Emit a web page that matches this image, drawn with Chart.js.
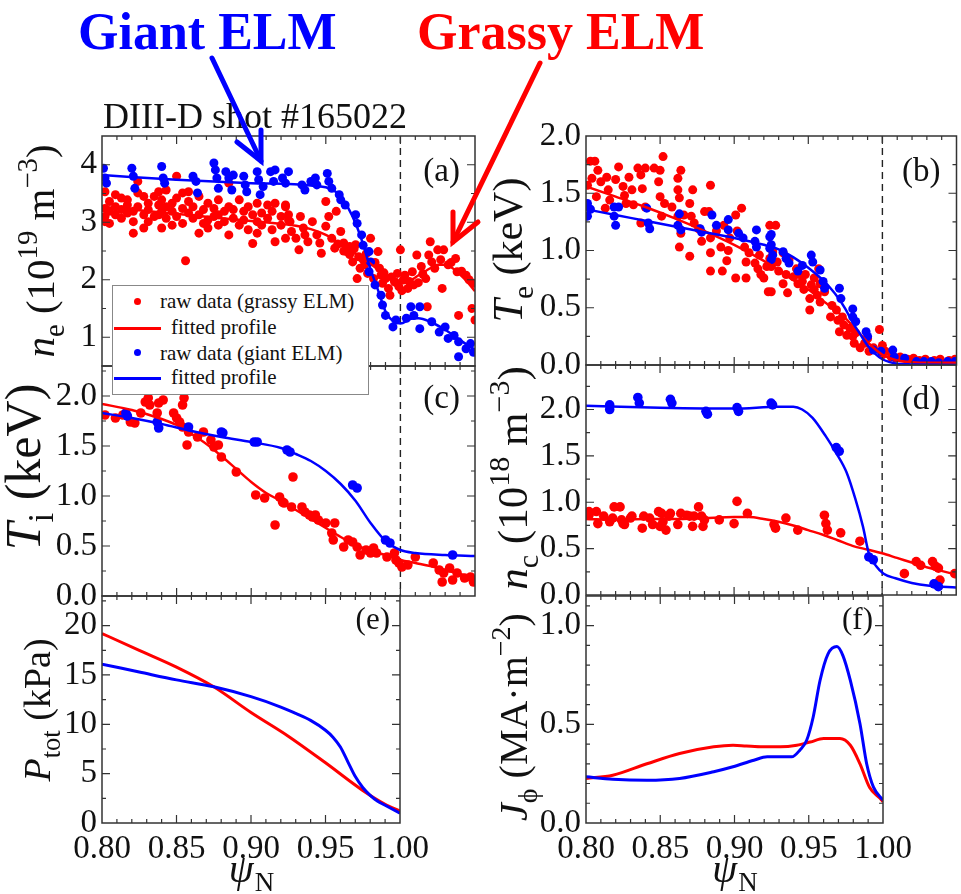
<!DOCTYPE html>
<html>
<head>
<meta charset="utf-8">
<script src="https://cdn.jsdelivr.net/npm/chart.js@4.4.0/dist/chart.umd.min.js"></script>
<style>
  html, body { margin: 0; padding: 0; background: #fff; overflow: hidden; }
  #page { position: relative; width: 961px; height: 894px; overflow: hidden;
          font-family: 'Liberation Serif', 'Times New Roman', serif; color: #111; }
  #page canvas { position: absolute; left: 0; top: 0; }
  .note { position: absolute; white-space: nowrap; line-height: 1; }
  #legend { position: absolute; left: 112px; top: 285px; width: 255px; height: 108px;
            border: 1.5px solid #888; background: #fff; z-index: 5; font-size: 21px; }
  #legend .dot { position: absolute; width: 7px; height: 7px; border-radius: 50%; }
  #legend .ln { position: absolute; height: 3px; width: 47px; left: 1px; }
  #legend span { position: absolute; white-space: nowrap; line-height: 1; }
  #arrows { position: absolute; left: 0; top: 0; z-index: 6; }
</style>
</head>
<body>
<div id="page">
  <div class="note" style="left:78px;top:6px;font-size:52px;font-weight:bold;color:#0000ff;">Giant ELM</div>
  <div class="note" style="left:417px;top:6px;font-size:52px;font-weight:bold;color:#ff0000;">Grassy ELM</div>
  <div class="note" style="left:103px;top:98px;font-size:36px;">DIII-D shot #165022</div>
  <div id="legend">
    <div class="dot" style="left:21px;top:12px;background:#ff0000;"></div>
    <span style="left:47px;top:5px;">raw data (grassy ELM)</span>
    <div class="ln" style="top:41px;background:#ff0000;"></div>
    <span style="left:58px;top:31px;">fitted profile</span>
    <div class="dot" style="left:21px;top:63px;background:#0000ff;"></div>
    <span style="left:47px;top:57px;">raw data (giant ELM)</span>
    <div class="ln" style="top:91px;background:#0000ff;"></div>
    <span style="left:58px;top:81px;">fitted profile</span>
  </div>
  <svg id="arrows" width="961" height="894">
    <g stroke="#0000ff" stroke-width="5" fill="none" stroke-linecap="round">
      <line x1="212" y1="58" x2="261" y2="161"/>
      <polyline points="237,142 261,161 261,130"/>
    </g>
    <g stroke="#ff0000" stroke-width="5" fill="none" stroke-linecap="round">
      <line x1="540" y1="63" x2="453" y2="242"/>
      <polyline points="453,212 453,242 478,222"/>
    </g>
  </svg>
</div>
<script>
// x axis (psi_N) ticks
const psiTicks = [0.80, 0.85, 0.90, 0.95, 1.00, 1.05];

// (a) electron density n_e, 10^19 m^-3
const neTicks = [1, 2, 3, 4];
const neGrassyRaw = [
  [0.802,3.53],[0.802,3.24],[0.802,3.10],[0.802,3.01],[0.805,3.19],[0.805,2.98],[0.805,3.36],
  [0.809,3.48],[0.809,3.27],[0.809,3.13],[0.813,3.42],[0.813,3.22],[0.813,3.07],[0.817,3.30],
  [0.817,3.16],[0.817,3.39],[0.821,3.01],[0.821,2.81],[0.821,3.19],[0.824,3.71],[0.824,3.51],
  [0.824,3.27],[0.828,3.45],[0.828,3.13],[0.828,2.90],[0.831,3.33],[0.831,3.22],[0.831,3.01],
  [0.835,3.10],[0.835,3.45],[0.838,3.53],[0.838,3.30],[0.838,3.13],[0.840,3.39],[0.840,3.19],
  [0.840,2.90],[0.843,3.56],[0.843,3.27],[0.843,3.07],[0.847,3.19],[0.847,2.95],[0.847,3.33],
  [0.850,3.80],[0.850,3.42],[0.850,3.10],[0.854,3.51],[0.854,3.24],[0.854,2.98],[0.856,2.33],
  [0.858,3.36],[0.858,3.16],[0.858,3.53],[0.861,3.27],[0.861,3.07],[0.865,3.45],[0.865,3.13],
  [0.865,2.81],[0.868,3.22],[0.868,2.98],[0.871,3.33],[0.871,3.04],[0.871,2.90],[0.875,3.24],
  [0.875,3.10],[0.878,3.39],[0.878,2.95],[0.878,3.13],[0.882,3.19],[0.882,3.01],[0.885,3.68],
  [0.885,3.27],[0.885,2.78],[0.888,3.07],[0.888,3.22],[0.892,3.39],[0.892,2.95],[0.895,3.19],
  [0.895,3.04],[0.898,3.27],[0.898,2.87],[0.901,2.63],[0.901,3.13],[0.904,3.33],[0.904,3.01],
  [0.904,2.81],[0.907,3.16],[0.907,2.95],[0.911,3.30],[0.911,3.07],[0.914,3.19],[0.914,2.87],
  [0.916,2.66],[0.916,3.33],[0.920,3.10],[0.920,2.95],[0.923,3.27],[0.923,2.72],[0.925,3.04],
  [0.923,3.30],[0.925,3.13],[0.926,3.01],[0.927,2.84],[0.930,2.72],[0.932,2.52],[0.933,3.10],
  [0.935,2.90],[0.936,2.78],[0.938,2.66],[0.941,3.01],[0.944,2.78],[0.946,2.64],[0.947,2.46],
  [0.950,3.36],[0.950,2.93],[0.952,3.10],[0.954,2.72],[0.956,2.55],[0.957,3.19],[0.958,2.62],
  [0.960,2.84],[0.962,2.64],[0.962,2.50],[0.964,2.49],[0.966,2.58],[0.966,2.44],[0.968,2.31],
  [0.969,2.54],[0.970,2.61],[0.971,2.02],[0.972,2.40],[0.973,2.20],[0.975,2.35],[0.976,2.26],
  [0.977,2.45],[0.978,2.11],[0.980,2.72],[0.982,2.02],[0.983,2.30],[0.985,2.49],[0.986,2.20],
  [0.987,2.08],[0.988,1.94],[0.989,2.12],[0.990,2.02],[0.992,1.85],[0.993,1.73],[0.994,2.05],
  [0.996,1.97],[0.997,1.95],[0.998,2.11],[0.999,1.88],[1.000,2.52],[1.001,1.81],[1.002,2.00],
  [1.003,2.08],[1.005,1.85],[1.006,1.97],[1.008,2.14],[1.009,1.91],[1.011,2.43],[1.012,1.95],
  [1.014,2.23],[1.015,2.10],[1.017,2.02],[1.018,1.53],[1.019,2.43],[1.020,2.66],[1.021,2.31],
  [1.023,2.20],[1.025,2.52],[1.027,2.35],[1.028,1.85],[1.029,2.52],[1.032,2.26],[1.034,2.30],
  [1.037,2.37],[1.038,2.14],[1.039,1.38],[1.041,2.15],[1.044,2.08],[1.046,2.00],[1.048,1.50],
  [1.049,1.94],[1.050,1.30]
];
const neGrassyFit = [
  [0.80,3.27],[0.82,3.22],[0.84,3.17],[0.86,3.12],[0.88,3.07],[0.90,3.02],[0.92,2.97],
  [0.93,2.94],[0.94,2.88],[0.95,2.78],[0.96,2.62],[0.97,2.45],[0.98,2.28],[0.99,2.07],
  [1.00,1.94],[1.005,1.96],[1.01,2.04],[1.02,2.20],[1.025,2.26],[1.03,2.26],[1.035,2.20],
  [1.04,2.09],[1.045,1.96],[1.05,1.80]
];
const neGiantRaw = [
  [0.801,3.94],[0.802,3.77],[0.803,3.68],[0.820,3.94],[0.821,3.80],[0.822,3.59],[0.840,3.97],
  [0.841,3.77],[0.842,3.68],[0.861,3.80],[0.863,3.71],[0.864,3.51],[0.875,4.03],[0.876,3.91],
  [0.877,3.77],[0.878,3.59],[0.883,3.88],[0.885,3.77],[0.887,3.56],[0.888,3.82],[0.895,3.80],
  [0.896,3.65],[0.897,3.53],[0.904,3.88],[0.905,3.74],[0.906,3.48],[0.908,3.62],[0.913,3.88],
  [0.915,3.71],[0.916,3.91],[0.921,3.77],[0.923,3.68],[0.925,3.88],[0.934,3.65],[0.936,3.56],
  [0.940,3.71],[0.943,3.77],[0.944,3.65],[0.951,3.85],[0.952,3.71],[0.954,3.59],[0.959,3.48],
  [0.960,3.39],[0.963,3.30],[0.970,3.13],[0.971,2.98],[0.974,2.78],[0.975,2.60],[0.979,2.49],
  [0.980,2.31],[0.979,2.14],[0.983,1.91],[0.987,1.73],[0.988,1.56],[0.990,1.38],[0.995,1.18],
  [0.997,1.30],[1.004,1.33],[1.007,1.53],[1.009,1.38],[1.013,1.53],[1.013,1.15],[1.021,1.27],
  [1.026,1.09],[1.030,1.18],[1.032,0.98],[1.036,1.03],[1.039,0.92],[1.039,0.66],[1.044,0.80],
  [1.047,0.89],[1.049,0.74]
];
const neGiantFit = [
  [0.80,3.82],[0.85,3.74],[0.90,3.68],[0.94,3.64],[0.955,3.56],[0.96,3.45],[0.965,3.25],
  [0.97,2.98],[0.975,2.62],[0.98,2.18],[0.985,1.82],[0.99,1.45],[0.995,1.28],[1.00,1.24],
  [1.007,1.32],[1.012,1.33],[1.02,1.27],[1.03,1.13],[1.04,0.95],[1.05,0.78]
];

// (b) electron temperature T_e, keV
const teTicks = [0.0, 0.5, 1.0, 1.5, 2.0];
const teGrassyRaw = [
  [0.803,1.78],[0.806,1.78],[0.804,1.63],[0.801,1.57],[0.808,1.70],[0.810,1.60],[0.807,1.47],
  [0.814,1.64],[0.815,1.53],[0.816,1.44],[0.813,1.37],[0.822,1.73],[0.820,1.62],[0.825,1.56],
  [0.826,1.48],[0.827,1.41],[0.829,1.64],[0.831,1.53],[0.832,1.40],[0.835,1.72],[0.837,1.66],
  [0.838,1.54],[0.840,1.38],[0.840,1.72],[0.837,1.24],[0.846,1.72],[0.850,1.70],[0.852,1.82],
  [0.849,1.60],[0.850,1.47],[0.851,1.30],[0.853,1.41],[0.858,1.38],[0.862,1.63],[0.864,1.70],
  [0.862,1.53],[0.863,1.46],[0.862,1.30],[0.864,1.15],[0.863,1.03],[0.866,1.31],[0.870,1.41],
  [0.872,1.53],[0.871,1.30],[0.873,1.24],[0.870,0.95],[0.876,1.19],[0.878,1.08],[0.880,1.34],
  [0.884,1.57],[0.883,1.34],[0.884,1.11],[0.884,0.98],[0.884,0.82],[0.888,1.17],[0.891,1.03],
  [0.892,0.82],[0.893,1.22],[0.895,0.91],[0.896,1.00],[0.897,1.11],[0.901,1.31],[0.902,1.17],
  [0.901,0.76],[0.905,1.37],[0.907,1.03],[0.908,0.76],[0.908,0.90],[0.910,0.98],[0.914,0.89],
  [0.916,0.84],[0.917,0.96],[0.918,0.79],[0.920,0.76],[0.923,0.64],[0.922,0.86],[0.924,0.93],
  [0.924,1.22],[0.928,1.22],[0.926,0.99],[0.925,0.86],[0.925,0.64],[0.929,0.90],[0.930,0.82],
  [0.933,0.98],[0.933,0.71],[0.935,0.79],[0.936,0.63],[0.937,0.92],[0.940,0.77],[0.942,0.84],
  [0.943,0.71],[0.944,0.79],[0.946,0.73],[0.947,0.66],[0.948,0.79],[0.951,0.48],[0.951,0.58],
  [0.952,0.70],[0.954,0.66],[0.954,0.76],[0.956,0.61],[0.957,0.84],[0.958,0.55],[0.958,0.71],
  [0.961,0.64],[0.965,0.42],[0.966,0.52],[0.969,0.48],[0.970,0.39],[0.971,0.29],[0.973,0.42],
  [0.974,0.35],[0.976,0.26],[0.978,0.32],[0.980,0.25],[0.981,0.19],[0.982,0.28],[0.985,0.15],
  [0.988,0.19],[0.990,0.23],[0.991,0.12],[0.994,0.15],[0.998,0.31],[1.000,0.17],[1.000,0.09],
  [1.002,0.12],[1.006,0.07],[1.009,0.06],[1.012,0.07],[1.017,0.05],[1.021,0.06],[1.025,0.04],
  [1.029,0.05],[1.035,0.04],[1.039,0.05],[1.045,0.04],[1.049,0.05]
];
const teGrassyFit = [
  [0.80,1.56],[0.82,1.47],[0.84,1.38],[0.86,1.28],[0.88,1.17],[0.90,1.05],[0.92,0.91],
  [0.93,0.83],[0.94,0.74],[0.95,0.66],[0.96,0.56],[0.97,0.46],[0.975,0.41],[0.98,0.34],
  [0.985,0.27],[0.99,0.20],[0.995,0.14],[1.00,0.09],[1.005,0.06],[1.01,0.04],[1.02,0.025],
  [1.03,0.02],[1.05,0.02]
];
const teGiantRaw = [
  [0.801,1.41],[0.801,1.30],[0.803,1.36],[0.819,1.38],[0.822,1.38],[0.820,1.22],[0.819,1.30],
  [0.841,1.37],[0.842,1.24],[0.843,1.19],[0.862,1.22],[0.863,1.32],[0.864,1.18],[0.877,1.19],
  [0.878,1.16],[0.885,1.31],[0.888,1.22],[0.896,1.27],[0.896,1.18],[0.903,1.15],[0.906,1.11],
  [0.914,1.08],[0.915,1.18],[0.915,1.03],[0.924,1.12],[0.924,1.02],[0.925,0.92],[0.925,1.14],
  [0.925,1.05],[0.926,0.96],[0.933,0.99],[0.935,0.93],[0.937,0.89],[0.943,0.82],[0.946,0.87],
  [0.952,0.96],[0.953,0.90],[0.958,0.83],[0.960,0.73],[0.961,0.67],[0.971,0.67],[0.972,0.58],
  [0.980,0.49],[0.980,0.42],[0.982,0.38],[0.989,0.29],[0.990,0.25],[0.994,0.13],[0.999,0.12],
  [1.007,0.13],[1.008,0.07],[1.015,0.06],[1.023,0.03],[1.028,0.03],[1.033,0.03],[1.038,0.02],
  [1.044,0.03],[1.049,0.03]
];
const teGiantFit = [
  [0.80,1.36],[0.82,1.31],[0.84,1.26],[0.86,1.21],[0.88,1.16],[0.90,1.11],[0.92,1.05],
  [0.93,1.01],[0.94,0.94],[0.95,0.85],[0.96,0.74],[0.965,0.67],[0.97,0.59],[0.975,0.49],
  [0.98,0.37],[0.985,0.27],[0.99,0.17],[0.995,0.10],[1.00,0.05],[1.005,0.025],[1.01,0.01],
  [1.02,0.005],[1.05,0.0]
];

// (c) ion temperature T_i, keV
const tiTicks = [0.0, 0.5, 1.0, 1.5, 2.0];
const tiGrassyRaw = [
  [0.802,1.81],[0.809,1.78],[0.814,1.81],[0.819,1.74],[0.822,1.73],[0.826,1.83],[0.829,1.94],
  [0.831,1.98],[0.832,1.91],[0.837,1.83],[0.838,1.93],[0.841,1.96],[0.848,1.83],[0.850,1.78],
  [0.852,1.74],[0.854,1.91],[0.855,1.98],[0.854,1.69],[0.857,1.51],[0.858,1.64],[0.864,1.59],
  [0.868,1.64],[0.873,1.56],[0.875,1.49],[0.878,1.51],[0.880,1.39],[0.890,1.24],[0.903,1.01],
  [0.909,0.98],[0.916,0.71],[0.919,0.99],[0.921,0.94],[0.922,0.93],[0.927,0.89],[0.928,1.19],
  [0.934,0.89],[0.936,0.84],[0.939,0.81],[0.941,0.79],[0.943,0.81],[0.945,0.76],[0.950,0.73],
  [0.954,0.63],[0.956,0.73],[0.955,0.56],[0.962,0.49],[0.965,0.56],[0.968,0.54],[0.971,0.49],
  [0.973,0.41],[0.977,0.46],[0.980,0.43],[0.982,0.48],[0.984,0.43],[0.991,0.39],[0.996,0.43],
  [0.997,0.36],[0.999,0.33],[1.001,0.29],[1.005,0.31],[1.010,0.39],[1.022,0.33],[1.026,0.26],
  [1.029,0.23],[1.028,0.14],[1.033,0.28],[1.035,0.16],[1.038,0.23],[1.043,0.18],[1.047,0.19],
  [1.049,0.14]
];
const tiGrassyFit = [
  [0.80,1.92],[0.82,1.86],[0.84,1.77],[0.85,1.71],[0.86,1.62],[0.87,1.52],[0.88,1.40],
  [0.89,1.27],[0.90,1.14],[0.91,1.03],[0.92,0.95],[0.93,0.86],[0.94,0.77],[0.95,0.68],
  [0.96,0.59],[0.97,0.51],[0.98,0.45],[0.99,0.41],[1.00,0.36],[1.01,0.33],[1.02,0.30],
  [1.03,0.26],[1.04,0.22],[1.05,0.18]
];
const tiGiantRaw = [
  [0.816,1.83],[0.817,1.80],[0.837,1.74],[0.838,1.68],[0.858,1.69],[0.880,1.64],[0.881,1.63],
  [0.902,1.54],[0.904,1.54],[0.924,1.46],[0.926,1.44],[0.968,1.11],[0.971,1.08],[0.990,0.56],
  [0.993,0.53],[1.035,0.41]
];
const tiGiantFit = [
  [0.80,1.83],[0.82,1.78],[0.84,1.72],[0.86,1.65],[0.88,1.59],[0.90,1.54],[0.92,1.48],
  [0.93,1.42],[0.94,1.35],[0.95,1.25],[0.96,1.12],[0.97,0.95],[0.98,0.73],[0.99,0.55],
  [1.00,0.46],[1.01,0.43],[1.03,0.41],[1.05,0.40]
];

// (d) carbon density n_c, 10^18 m^-3
const ncTicks = [0.0, 0.5, 1.0, 1.5, 2.0];
const ncGrassyRaw = [
  [0.802,0.90],[0.802,0.86],[0.807,0.90],[0.808,0.77],[0.812,0.85],[0.816,0.79],[0.818,0.83],
  [0.819,0.95],[0.823,0.95],[0.824,0.81],[0.825,0.77],[0.826,0.76],[0.830,0.83],[0.831,0.85],
  [0.838,0.72],[0.839,0.85],[0.843,0.83],[0.845,0.76],[0.849,0.90],[0.850,0.74],[0.851,0.88],
  [0.852,0.79],[0.854,0.70],[0.856,0.85],[0.857,0.88],[0.862,0.76],[0.864,0.88],[0.868,0.86],
  [0.870,0.85],[0.872,0.74],[0.873,0.85],[0.876,0.95],[0.878,0.85],[0.879,0.74],[0.880,0.81],
  [0.890,0.81],[0.900,0.77],[0.902,1.01],[0.909,0.88],[0.927,0.76],[0.928,0.72],[0.935,0.83],
  [0.943,0.70],[0.961,0.86],[0.962,0.77],[0.963,0.70],[0.972,0.67],[0.985,0.58],[1.015,0.23],
  [1.023,0.36],[1.026,0.32],[1.034,0.36],[1.036,0.31],[1.038,0.29],[1.039,0.16],[1.049,0.23]
];
const ncGrassyFit = [
  [0.80,0.82],[0.82,0.81],[0.84,0.82],[0.86,0.82],[0.88,0.83],[0.90,0.84],[0.91,0.84],
  [0.92,0.82],[0.93,0.79],[0.94,0.75],[0.95,0.70],[0.96,0.65],[0.97,0.59],[0.98,0.53],
  [0.99,0.49],[1.00,0.45],[1.01,0.40],[1.02,0.35],[1.03,0.30],[1.04,0.26],[1.05,0.22]
];
const ncGiantRaw = [
  [0.816,2.05],[0.816,2.00],[0.835,2.13],[0.836,2.07],[0.857,2.11],[0.858,2.07],[0.881,1.98],
  [0.882,1.95],[0.902,2.02],[0.903,1.98],[0.925,2.07],[0.926,2.05],[0.969,1.59],[0.971,1.55],
  [0.991,0.41],[0.994,0.38],[1.035,0.12],[1.038,0.09]
];
const ncGiantFit = [
  [0.80,2.04],[0.85,2.02],[0.90,2.01],[0.93,2.03],[0.94,2.03],[0.946,2.00],[0.953,1.91],
  [0.962,1.71],[0.969,1.53],[0.976,1.32],[0.982,1.03],[0.987,0.74],[0.991,0.45],[0.996,0.31],
  [1.001,0.23],[1.009,0.18],[1.02,0.13],[1.032,0.10],[1.05,0.08]
];

// (e) total pressure P_tot, kPa
const pTicks = [0, 5, 10, 15, 20];
const pGrassy = [
  [0.80,19.2],[0.825,17.5],[0.85,15.8],[0.875,13.8],[0.90,11.2],[0.925,8.8],[0.95,6.1],
  [0.975,3.3],[0.99,1.9],[1.00,1.2]
];
const pGiant = [
  [0.80,16.1],[0.825,15.3],[0.85,14.5],[0.875,13.8],[0.90,12.8],[0.92,11.75],[0.93,11.1],
  [0.94,10.4],[0.95,9.4],[0.955,8.7],[0.96,7.7],[0.965,6.2],[0.97,4.7],[0.975,3.6],
  [0.98,2.8],[0.985,2.2],[0.99,1.8],[1.00,1.0]
];

// (f) toroidal current density J_phi, MA m^-2
const jTicks = [0.0, 0.5, 1.0];
const jGrassy = [
  [0.80,0.226],[0.818,0.242],[0.841,0.300],[0.863,0.352],[0.886,0.386],[0.899,0.394],
  [0.908,0.390],[0.919,0.386],[0.931,0.386],[0.942,0.394],[0.951,0.410],[0.96,0.428],
  [0.971,0.428],[0.978,0.394],[0.9845,0.300],[0.991,0.180],[0.998,0.125],[1.00,0.108]
];
const jGiant = [
  [0.80,0.234],[0.818,0.222],[0.841,0.217],[0.863,0.226],[0.886,0.260],[0.899,0.285],
  [0.913,0.318],[0.922,0.335],[0.931,0.335],[0.9385,0.335],[0.944,0.369],[0.9486,0.419],
  [0.953,0.537],[0.9576,0.722],[0.963,0.857],[0.969,0.894],[0.973,0.848],[0.978,0.722],
  [0.9845,0.503],[0.989,0.300],[0.9935,0.183],[1.00,0.116]
];

const RED = '#ff0000', BLUE = '#0000ff';
const family = "'Liberation Serif', 'Times New Roman', serif";
Chart.defaults.font.family = family;
Chart.defaults.color = '#111';
const page = document.getElementById('page');

const pts = arr => arr.map(([x, y]) => ({ x, y }));
function dots(arr, color, order, r) {
  return { data: pts(arr), backgroundColor: color, borderColor: color, borderWidth: 0,
           pointRadius: r || 4.5, order };
}
function curve(arr, color, order, w) {
  return { data: pts(arr), showLine: true, borderColor: color, backgroundColor: color,
           borderWidth: w || 2.5, pointRadius: 0, cubicInterpolationMode: 'monotone', order };
}

// rotated y-axis title with sub/superscripts
function drawTitle(ctx, parts, size, bx, cy) {
  ctx.save();
  ctx.translate(bx, cy);
  ctx.rotate(-Math.PI / 2);
  const segs = parts.map(([t, k]) => {
    const small = k === 'sub' || k === 'sup';
    const font = (k === 'i' ? 'italic ' : '') + (small ? size * 0.7 : size) + 'px ' + family;
    ctx.font = font;
    const dy = k === 'sub' ? size * 0.25 : k === 'sup' ? -size * 0.42 : 0;
    return { t, font, dy, w: ctx.measureText(t).width };
  });
  const total = segs.reduce((s, g) => s + g.w, 0);
  let x = -total / 2;
  ctx.fillStyle = '#111';
  ctx.textBaseline = 'alphabetic';
  segs.forEach(g => { ctx.font = g.font; ctx.fillText(g.t, x, g.dy); x += g.w; });
  ctx.restore();
}

function makePanel(p) {
  const cv = document.createElement('canvas');
  cv.width = 961; cv.height = 894;
  page.insertBefore(cv, page.firstChild);
  const [L, T, R, B] = p.box;

  const framePlugin = {
    id: 'frame_' + p.id,
    beforeDatasetsDraw(chart) {
      if (!p.dashed) return;
      const ctx = chart.ctx, a = chart.chartArea;
      const x = chart.scales.x.getPixelForValue(1.0);
      ctx.save();
      ctx.strokeStyle = '#222'; ctx.lineWidth = 1.4; ctx.setLineDash([7, 5]);
      ctx.beginPath(); ctx.moveTo(x, a.top); ctx.lineTo(x, a.bottom); ctx.stroke();
      ctx.restore();
    },
    afterDraw(chart) {
      const ctx = chart.ctx, a = chart.chartArea;
      const xs = chart.scales.x, ys = chart.scales.y;
      ctx.save();
      ctx.strokeStyle = '#333'; ctx.lineWidth = 1.5;
      ctx.strokeRect(a.left, a.top, a.right - a.left, a.bottom - a.top);
      // inward ticks, all four sides
      ctx.lineWidth = 1.2;
      ctx.beginPath();
      const nx = Math.round(p.xMax * 100);
      for (let i = 81; i < nx; i++) {
        const x = xs.getPixelForValue(i / 100), len = i % 5 === 0 ? 8 : 4;
        ctx.moveTo(x, a.bottom); ctx.lineTo(x, a.bottom - len);
        ctx.moveTo(x, a.top); ctx.lineTo(x, a.top + len);
      }
      const ny = Math.floor((p.yMax - p.yMin) / p.yMinor + 1e-6);
      for (let k = 1; k <= ny; k++) {
        const v = p.yMin + k * p.yMinor;
        if (v >= p.yMax - 1e-6) continue;
        const y = ys.getPixelForValue(v);
        const len = p.yTicks.some(t => Math.abs(t - v) < 1e-6) ? 8 : 4;
        ctx.moveTo(a.left, y); ctx.lineTo(a.left + len, y);
        ctx.moveTo(a.right, y); ctx.lineTo(a.right - len, y);
      }
      ctx.stroke();
      // panel letter
      ctx.fillStyle = '#111';
      ctx.font = p.labelSize + 'px ' + family;
      ctx.textAlign = 'right'; ctx.textBaseline = 'alphabetic';
      ctx.fillText(p.label, a.right - p.labelDx, a.top + p.labelDy);
      ctx.textAlign = 'left';
      drawTitle(ctx, p.title, p.tSize, p.tx, p.ty);
      if (p.showX) {
        const cx = xs.getPixelForValue(0.9);
        ctx.font = 'italic 40px ' + family;
        const w1 = ctx.measureText('ψ').width;
        ctx.font = '27px ' + family;
        const w2 = ctx.measureText('N').width;
        let x = cx - (w1 + w2) / 2;
        ctx.font = 'italic 40px ' + family;
        ctx.fillText('ψ', x, 882);
        ctx.font = '27px ' + family;
        ctx.fillText('N', x + w1 + 1, 891);
      }
      ctx.restore();
    }
  };

  new Chart(cv, {
    type: 'scatter',
    data: { datasets: p.sets },
    options: {
      responsive: false, animation: false, devicePixelRatio: 1,
      layout: { padding: { left: 0, top: T, right: 961 - R, bottom: p.showX ? 0 : 894 - B } },
      plugins: { legend: { display: false }, tooltip: { enabled: false } },
      scales: {
        x: {
          type: 'linear', position: 'bottom', min: 0.8, max: p.xMax,
          grid: { display: false, drawTicks: false }, border: { display: false },
          ticks: { display: p.showX, autoSkip: false, maxRotation: 0, padding: 7, color: '#111',
                   font: { family: family, size: 33 }, callback: v => v.toFixed(2) },
          afterBuildTicks: s => { s.ticks = psiTicks.filter(v => v <= p.xMax + 1e-9).map(v => ({ value: v })); },
          afterFit: s => { s.height = p.showX ? 894 - B : 0; }
        },
        y: {
          type: 'linear', position: 'left', min: p.yMin, max: p.yMax,
          grid: { display: false, drawTicks: false }, border: { display: false },
          ticks: { autoSkip: false, padding: 5, color: '#111', font: { family: family, size: 33 },
                   callback: v => v.toFixed(p.dec) },
          afterBuildTicks: s => { s.ticks = p.yTicks.map(v => ({ value: v })); },
          afterFit: s => { s.width = L; }
        }
      }
    },
    plugins: [framePlugin]
  });
}

const panels = [
  { id: 'a', box: [102, 136, 475, 366], xMax: 1.05, yMin: 0.5, yMax: 4.5, yTicks: neTicks, yMinor: 0.5, dec: 0,
    dashed: true, showX: false, label: '(a)', labelSize: 33, labelDx: 15, labelDy: 45,
    title: [['n', 'i'], ['e', 'sub'], [' (10', 'n'], ['19', 'sup'], [' m', 'n'], ['−3', 'sup'], [')', 'n']],
    tSize: 41, tx: 54, ty: 251,
    sets: [curve(neGiantFit, BLUE, 0), curve(neGrassyFit, RED, 1), dots(neGiantRaw, BLUE, 2), dots(neGrassyRaw, RED, 3)] },
  { id: 'b', box: [586, 136, 959, 365], xMax: 1.05, yMin: 0, yMax: 2.0, yTicks: teTicks, yMinor: 0.25, dec: 1,
    dashed: true, showX: false, label: '(b)', labelSize: 33, labelDx: 16, labelDy: 45,
    title: [['T', 'i'], ['e', 'sub'], [' (keV)', 'n']],
    tSize: 42, tx: 522, ty: 250,
    sets: [curve(teGiantFit, BLUE, 0), curve(teGrassyFit, RED, 1), dots(teGiantRaw, BLUE, 2), dots(teGrassyRaw, RED, 3)] },
  { id: 'c', box: [102, 366, 475, 596], xMax: 1.05, yMin: 0, yMax: 2.3, yTicks: tiTicks, yMinor: 0.25, dec: 1,
    dashed: true, showX: false, label: '(c)', labelSize: 33, labelDx: 15, labelDy: 42,
    title: [['T', 'i'], ['i', 'sub'], [' (keV)', 'n']],
    tSize: 50, tx: 40, ty: 467,
    sets: [curve(tiGiantFit, BLUE, 0), curve(tiGrassyFit, RED, 1), dots(tiGiantRaw, BLUE, 2, 4.8), dots(tiGrassyRaw, RED, 3, 4.8)] },
  { id: 'd', box: [586, 365, 959, 595], xMax: 1.05, yMin: 0, yMax: 2.48, yTicks: ncTicks, yMinor: 0.25, dec: 1,
    dashed: true, showX: false, label: '(d)', labelSize: 33, labelDx: 16, labelDy: 44,
    title: [['n', 'i'], ['c', 'sub'], [' (10', 'n'], ['18', 'sup'], [' m', 'n'], ['−3', 'sup'], [')', 'n']],
    tSize: 43, tx: 527, ty: 478,
    sets: [curve(ncGiantFit, BLUE, 0), curve(ncGrassyFit, RED, 1), dots(ncGiantRaw, BLUE, 2, 4.8), dots(ncGrassyRaw, RED, 3, 4.8)] },
  { id: 'e', box: [102, 596, 400, 823], xMax: 1.0, yMin: 0, yMax: 23, yTicks: pTicks, yMinor: 2.5, dec: 0,
    dashed: false, showX: true, label: '(e)', labelSize: 31, labelDx: 10, labelDy: 33,
    title: [['P', 'i'], ['tot', 'sub'], [' (kPa)', 'n']],
    tSize: 38, tx: 50, ty: 710,
    sets: [curve(pGiant, BLUE, 0, 3), curve(pGrassy, RED, 1, 3)] },
  { id: 'f', box: [586, 596, 883, 823], xMax: 1.0, yMin: 0, yMax: 1.15, yTicks: jTicks, yMinor: 0.1, dec: 1,
    dashed: false, showX: true, label: '(f)', labelSize: 31, labelDx: 10, labelDy: 33,
    title: [['J', 'i'], ['ϕ', 'sub'], [' (MA·m', 'n'], ['−2', 'sup'], [')', 'n']],
    tSize: 40, tx: 527, ty: 717,
    sets: [curve(jGiant, BLUE, 0, 3), curve(jGrassy, RED, 1, 3)] }
];

panels.forEach(makePanel);
</script>
</body>
</html>
